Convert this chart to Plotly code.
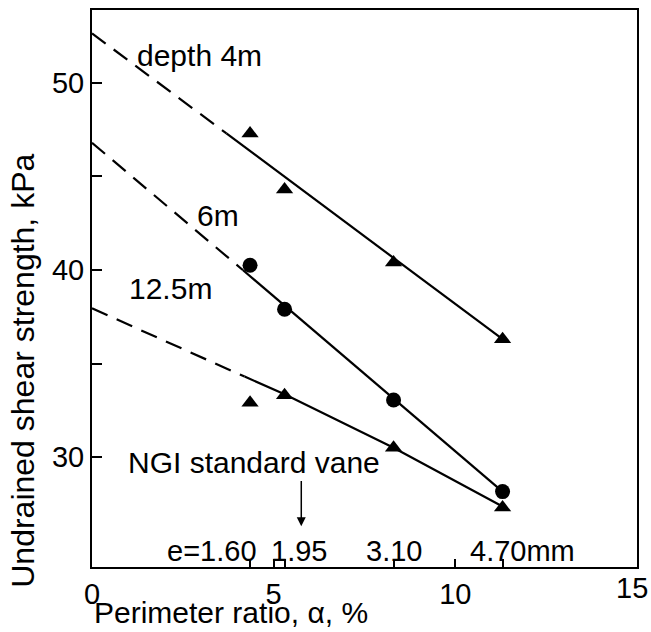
import plotly.graph_objects as go

# ---- data ----
ratio = [4.35, 5.3, 8.3, 11.3]          # perimeter ratio (%) for e = 1.60, 1.95, 3.10, 4.70 mm
e_labels = ["e=1.60", "1.95", "3.10", "4.70mm"]
e_label_x = [3.30, 5.71, 8.30, 11.84]

su_4m = [47.3, 44.3, 40.4, 36.3]
su_6m = [40.25, 37.9, 33.05, 28.15]
su_12m = [32.9, 33.3, 30.5, 27.3]

# fitted lines: dashed extrapolation to alpha=0 then solid
fit4_dash_x = [0, 3.7]
fit4_dash_y = [52.65, 47.3]
fit4_x = [3.7, 11.3]
fit4_y = [47.3, 36.3]

fit6_dash_x = [0, 4.15]
fit6_dash_y = [46.8, 40.0]
fit6_x = [4.15, 11.3]
fit6_y = [40.0, 28.15]

fit12_dash_x = [0, 4.2]
fit12_dash_y = [37.95, 34.3]
fit12_x = [4.2, 5.3, 8.3, 11.3]
fit12_y = [34.3, 33.35, 30.5, 27.35]

x_tickvals = [0, 4.35, 5, 5.3, 8.3, 10, 11.3, 15]
x_ticktext = ["0", "", "5", "", "", "10", "", ""]
x_last_label = "15"
y_tickvals = [30, 35, 40, 45, 50]
y_ticktext = ["30", "", "40", "", "50"]

FONT = "Liberation Sans, Arial, sans-serif"
BLACK = "black"
DASH = "17px,10px"
TICK = 29

fig = go.Figure()

def line(x, y, dash=None):
    fig.add_trace(go.Scatter(x=x, y=y, mode="lines",
                             line=dict(color=BLACK, width=2.2, dash=dash),
                             showlegend=False, hoverinfo="skip"))

line(fit4_dash_x, fit4_dash_y, DASH)
line(fit4_x, fit4_y)
line(fit6_dash_x, fit6_dash_y, DASH)
line(fit6_x, fit6_y)
line(fit12_dash_x, fit12_dash_y, DASH)
line(fit12_x, fit12_y)

fig.add_trace(go.Scatter(x=ratio, y=su_4m, mode="markers",
                         marker=dict(symbol="triangle-up", size=15, color=BLACK),
                         showlegend=False))
fig.add_trace(go.Scatter(x=ratio, y=su_6m, mode="markers",
                         marker=dict(symbol="circle", size=15, color=BLACK),
                         showlegend=False))
fig.add_trace(go.Scatter(x=ratio, y=su_12m, mode="markers",
                         marker=dict(symbol="triangle-up", size=15, color=BLACK),
                         showlegend=False))

ann = []
def text(x, y, s, size=30):
    ann.append(dict(x=x, y=y, xref="x", yref="y", text=s, showarrow=False,
                    font=dict(family=FONT, size=size, color=BLACK),
                    xanchor="center", yanchor="middle"))

text(2.97, 51.45, "depth 4m")
text(3.46, 42.9, "6m")
text(2.17, 39.0, "12.5m")
text(4.46, 29.7, "NGI standard vane")
for xv, s in zip(e_label_x, e_labels):
    text(xv, 24.95, s, size=29)

ann.append(dict(x=5.76, y=26.3, ax=5.76, ay=28.8, xref="x", yref="y",
                axref="x", ayref="y", text="", showarrow=True,
                arrowhead=2, arrowsize=1.2, arrowwidth=1.5, arrowcolor=BLACK))

# last x tick label, kept inside the page
ann.append(dict(x=1, y=0, xref="paper", yref="paper", text=x_last_label,
                showarrow=False, font=dict(family=FONT, size=TICK, color=BLACK),
                xanchor="right", yanchor="top", xshift=13, yshift=-3))

ann.append(dict(x=-0.128, y=0.5, xref="paper", yref="paper",
                text="Undrained shear strength, kPa", textangle=-90,
                showarrow=False, font=dict(family=FONT, size=32, color=BLACK),
                xanchor="center", yanchor="middle", yshift=-82))
ann.append(dict(x=0, y=0, xref="paper", yref="paper",
                text="Perimeter ratio, α, %", showarrow=False,
                font=dict(family=FONT, size=30, color=BLACK),
                xanchor="left", yanchor="bottom", yshift=-64))

fig.update_layout(
    width=651, height=632,
    margin=dict(l=92, r=14, t=10, b=65, autoexpand=False),
    paper_bgcolor="white", plot_bgcolor="white",
    annotations=ann,
    font=dict(family=FONT, size=30, color=BLACK),
)
fig.update_xaxes(range=[0, 15], tickvals=x_tickvals, ticktext=x_ticktext,
                 ticks="inside", ticklen=8, tickwidth=2, tickcolor=BLACK,
                 showline=True, linecolor=BLACK, linewidth=2, mirror=True,
                 showgrid=False, zeroline=False, automargin=False,
                 tickfont=dict(family=FONT, size=TICK, color=BLACK))
fig.update_yaxes(range=[24.12, 53.9], tickvals=y_tickvals, ticktext=y_ticktext,
                 ticks="inside", ticklen=10, tickwidth=2, tickcolor=BLACK,
                 showline=True, linecolor=BLACK, linewidth=2, mirror=True,
                 showgrid=False, zeroline=False, automargin=False,
                 tickfont=dict(family=FONT, size=TICK, color=BLACK))

fig.write_html("out.html")
